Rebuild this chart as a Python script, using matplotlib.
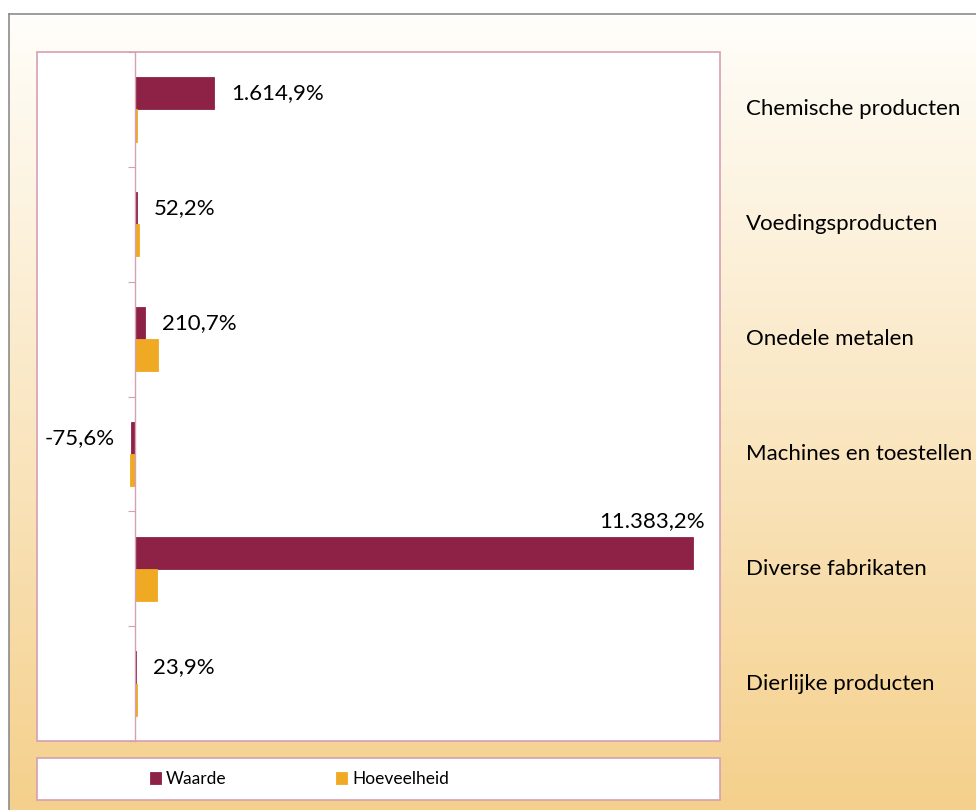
import numpy as np
import matplotlib.pyplot as plt
from matplotlib.patches import Rectangle

plt.rcParams['font.family'] = ['Lato', 'DejaVu Sans']

# Data
categories = ['Chemische producten', 'Voedingsproducten', 'Onedele metalen',
              'Machines en toestellen', 'Diverse fabrikaten', 'Dierlijke producten']
waarde = [1614.9, 52.2, 210.7, -75.6, 11383.2, 23.9]
hoeveelheid = [40, 95, 470, -95, 450, 45]
labels = ['1.614,9%', '52,2%', '210,7%', '-75,6%', '11.383,2%', '23,9%']

c_waarde = '#8E2246'
c_hoev = '#F0A922'
c_border = '#D4A0B4'

W, H = 976, 810
fig = plt.figure(figsize=(W / 100, H / 100), dpi=100)

# background gradient (white at top to light orange at bottom)
bg = fig.add_axes([9 / W, 0, 1 - 9 / W, 1 - 14 / H])
top = np.array([255, 254, 250]) / 255
bottom = np.array([245, 208, 140]) / 255
t = np.linspace(0, 1, 256)[:, None]
grad = top + (bottom - top) * t
bg.imshow(grad[:, None, :], aspect='auto', extent=[0, 1, 1, 0])
bg.set_xlim(0, 1)
bg.set_ylim(1, 0)
bg.set_xticks([])
bg.set_yticks([])
for side in ['right', 'bottom']:
    bg.spines[side].set_visible(False)
for side in ['left', 'top']:
    bg.spines[side].set_color('#8C8C8C')
    bg.spines[side].set_linewidth(1.2)

# plot area
x0, x1, y0, y1 = 37, 720, 52, 741
ax = fig.add_axes([x0 / W, 1 - y1 / H, (x1 - x0) / W, (y1 - y0) / H])
ax.set_facecolor('white')

y = np.arange(len(categories))
h = 0.28
ax.barh(y - h / 2, waarde, height=h, color=c_waarde, edgecolor=c_waarde,
        linewidth=0.6, label='Waarde')
ax.barh(y + h / 2, hoeveelheid, height=h, color=c_hoev, edgecolor=c_hoev,
        linewidth=0.6, label='Hoeveelheid')

ax.set_xlim(-1990, 11930)
ax.set_ylim(len(categories) - 0.5, -0.5)

for s in ['top', 'right', 'bottom']:
    ax.spines[s].set_visible(False)
ax.spines['left'].set_position(('data', 0))
ax.spines['left'].set_color(c_border)
ax.spines['left'].set_linewidth(1)
ax.set_xticks([])
ax.set_yticks(np.arange(len(categories) + 1) - 0.5)
ax.set_yticklabels([])
ax.tick_params(axis='y', length=5, color=c_border, direction='out')
ax.add_patch(Rectangle((0, 0), 1, 1, transform=ax.transAxes, fill=False,
                       edgecolor=c_border, linewidth=1.2, clip_on=False, zorder=5))

# data labels for Waarde
vmax = max(waarde)
for yi, v, lab in zip(y, waarde, labels):
    if v == vmax:
        ax.annotate(lab, (v, yi - h), xytext=(12, 16), textcoords='offset pixels',
                    ha='right', va='center', fontsize=16)
    elif v < 0:
        ax.annotate(lab, (v, yi - h / 2), xytext=(-16, 0), textcoords='offset pixels',
                    ha='right', va='center', fontsize=16)
    else:
        ax.annotate(lab, (v, yi - h / 2), xytext=(17, 0), textcoords='offset pixels',
                    ha='left', va='center', fontsize=16)

# category labels on the right
for yi, cat in zip(y, categories):
    ax.text((746 - x0) / (x1 - x0), yi, cat, transform=ax.get_yaxis_transform(),
            ha='left', va='center', fontsize=16, clip_on=False)

# legend box
fig.patches.append(Rectangle((x0 / W, 1 - 800 / H), (x1 - x0) / W, 42 / H,
                             transform=fig.transFigure, facecolor='white',
                             edgecolor=c_border, linewidth=1.2, zorder=1))
leg = fig.legend(loc='center left', bbox_to_anchor=(134 / W, 1 - 779 / H),
                 ncol=2, frameon=False, fontsize=12.5, handlelength=0.63,
                 handleheight=0.63, handletextpad=0.3, columnspacing=6.3)

fig.savefig('out.png', dpi=100)
